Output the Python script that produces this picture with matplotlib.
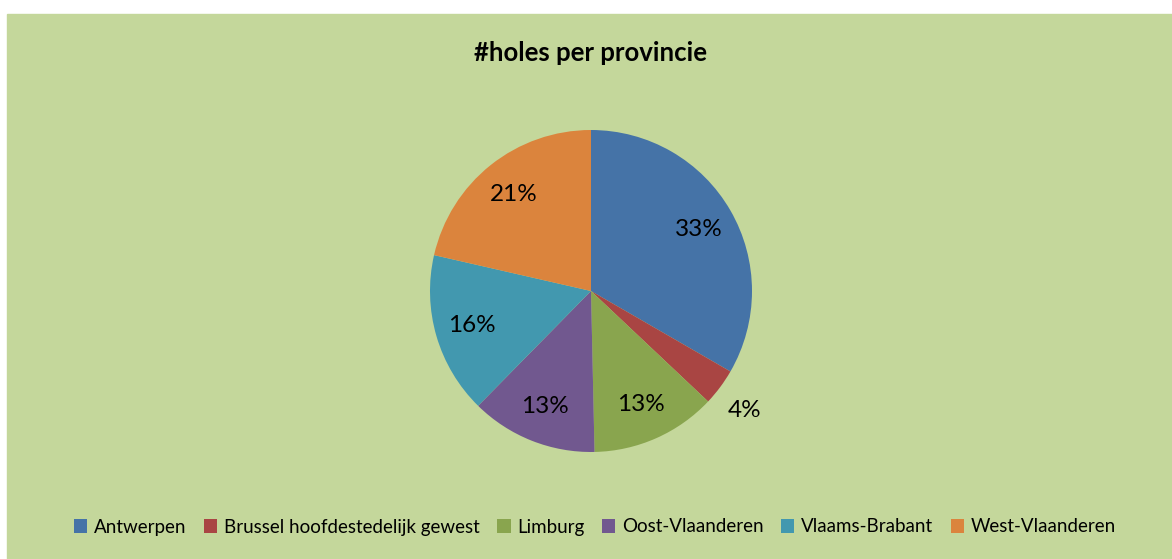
import matplotlib
matplotlib.use("Agg")
import matplotlib.pyplot as plt

# Data (share of holes per province, %)
provinces = ["Antwerpen", "Brussel hoofdestedelijk gewest", "Limburg",
             "Oost-Vlaanderen", "Vlaams-Brabant", "West-Vlaanderen"]
shares = [33.3, 3.7, 12.6, 12.7, 16.2, 21.4]
colors = ["#4573A7", "#A94543", "#89A54E", "#71588F", "#4298AF", "#DB843D"]

title = "#holes per provincie"
bg = "#C4D79B"

plt.rcParams["font.family"] = ["Lato", "DejaVu Sans"]

W, H = 1172, 559
fig = plt.figure(figsize=(W / 100, H / 100), dpi=100)
fig.patch.set_facecolor("white")

# green chart area (white margin at top and left like the reference)
fig.add_artist(plt.Rectangle((7 / W, 0), 1 - 7 / W, (H - 14) / H,
                             transform=fig.transFigure, color=bg, zorder=0))

cx, cy, r = 591, 291, 161
ax = fig.add_axes([(cx - r) / W, (H - cy - r) / H, 2 * r / W, 2 * r / H])
wedges, texts, autotexts = ax.pie(
    shares, colors=colors, startangle=90, counterclock=False,
    autopct="%.0f%%", pctdistance=0.77,
    textprops={"fontsize": 17.5, "color": "black"},
    wedgeprops={"linewidth": 0})
ax.set_xlim(-1, 1)
ax.set_ylim(-1, 1)
ax.axis("off")

# small slice: put its label outside the pie
small = shares.index(min(shares))
x, y = autotexts[small].get_position()
autotexts[small].set_position((x * 1.19 / 0.77, y * 1.19 / 0.77 - 0.03))

fig.text(cx / W, 1 - 53 / H, title, ha="center", va="center",
         fontsize=18.5, fontweight="bold")

fig.legend(wedges, provinces, loc="center", bbox_to_anchor=(595 / W, 32 / H),
           ncol=6, frameon=False, fontsize=13.5, handlelength=0.7,
           handleheight=0.7, handletextpad=0.35, columnspacing=0.95)

fig.savefig("out.png", dpi=100, facecolor=fig.get_facecolor())
